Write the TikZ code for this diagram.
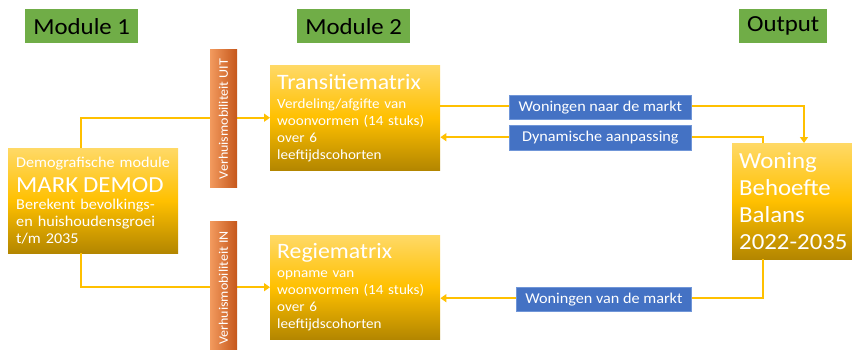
\documentclass[tikz,border=0pt]{standalone}
\usepackage{fontspec}
\setmainfont[FakeStretch=1.08]{Carlito}
\usetikzlibrary{arrows.meta,calc}
\definecolor{gtop}{HTML}{FFD966}
\definecolor{gmid}{HTML}{FFC000}
\definecolor{gbot}{HTML}{B38600}
\definecolor{btop}{HTML}{F29A5E}
\definecolor{bbot}{HTML}{C5561A}
\definecolor{green1}{HTML}{70AD47}
\definecolor{blue1}{HTML}{4472C4}
\definecolor{blue2}{HTML}{7096D8}
\definecolor{lnk}{HTML}{FFC000}
\begin{document}
\begin{tikzpicture}[x=1pt,y=-1pt,
  modbox/.style={fill=green1, text=black, font=\fontsize{23}{26}\selectfont, minimum height=34pt, inner sep=0pt, anchor=north west},
  goldbox/.style={top color=gtop, bottom color=gbot, middle color=gmid, text=white, align=left, anchor=north west, inner xsep=7pt, inner ysep=0pt, font=\fontsize{14}{17}\selectfont},
  barbox/.style={left color=btop, right color=bbot, anchor=north west, inner sep=0pt, minimum width=27pt},
  bartext/.style={rotate=90, text=white, font=\fontsize{13}{15}\selectfont, inner sep=0pt},
  bluebox/.style={fill=blue1, draw=blue2, line width=0.8pt, text=white, font=\fontsize{15}{17}\selectfont, minimum height=24pt, inner sep=0pt, anchor=north west},
  link/.style={draw=lnk, line width=2pt},
  arr/.style={link, -{Triangle[length=6pt,width=8pt]}}
]
\clip (0,0) rectangle (852,349);

% module headers
\node[modbox, minimum width=113pt] (m1) at (25,9) {Module 1};
\node[modbox, minimum width=113pt] (m2) at (297,9) {Module 2};
\node[modbox, minimum width=88pt] (out) at (739,9) {Output};

% gold boxes
\node[goldbox, minimum width=170pt, text width=156pt, minimum height=105pt] (trans) at (270,65)
  {{\fontsize{22}{24}\selectfont Transitiematrix}\\[2pt]
   Verdeling/afgifte van\\ woonvormen (14 stuks)\\ over 6\\ leeftijdscohorten};
\node[goldbox, minimum width=170pt, text width=154pt, inner xsep=8pt, minimum height=105pt, font=\fontsize{15}{17}\selectfont] (demo) at (8,148)
  {Demografische module\\[6pt]
   {\fontsize{23}{25}\selectfont MARK DEMOD}\\
   Berekent bevolkings-\\ en huishoudensgroei\\ t/m 2035};
\node[goldbox, minimum width=170pt, text width=156pt, minimum height=104pt] (regie) at (270,235)
  {{\fontsize{22}{24}\selectfont Regiematrix}\\[2pt]
   opname van\\ woonvormen (14 stuks)\\ over 6\\ leeftijdscohorten};
\node[goldbox, minimum width=121pt, text width=125pt, inner xsep=7pt, minimum height=116pt, font=\fontsize{23}{27}\selectfont] (woning) at (732,143)
  {Woning\\ Behoefte\\ Balans\\ 2022-2035};

% connectors
\draw[arr] ([xshift=73pt]demo.north west) |- (trans.west);
\draw[arr] ([xshift=73pt]demo.south west) |- (regie.west);
\draw[arr] ([yshift=11.5pt]trans.east) -| ([xshift=72pt]woning.north west);
\draw[arr] ([xshift=31pt]woning.north west) |- ([yshift=-19.5pt]trans.east);
\draw[arr] ([xshift=31pt]woning.south west) |- ([yshift=-11pt]regie.east);

% mobility bars
\node[barbox, minimum height=138pt] (uit) at (210,49) {};
\node[bartext] (uitlbl) at (223.5,119) {Verhuismobiliteit UIT};
\node[barbox, minimum height=140pt] (in) at (210,221) {};
\node[bartext] (inlbl) at (223.5,288) {Verhuismobiliteit IN};

% blue labels
\node[bluebox, minimum width=182pt] (naar) at (509,95) {Woningen naar de markt};
\node[bluebox, minimum width=182pt, minimum height=25pt] (dyn) at (509,125) {Dynamische aanpassing};
\node[bluebox, minimum width=175pt] (van) at (516,287) {Woningen van de markt};
\end{tikzpicture}
\end{document}
